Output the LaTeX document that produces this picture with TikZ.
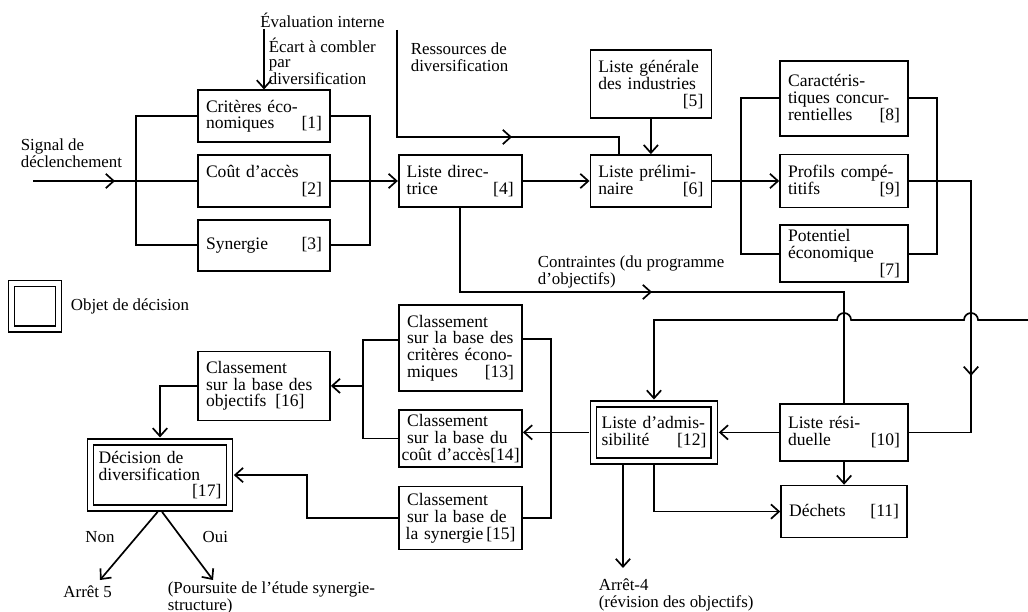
\documentclass[tikz,border=0pt]{standalone}
\usepackage{fontspec}
\setmainfont{Liberation Serif}
\usetikzlibrary{arrows.meta,positioning,decorations.markings}

\begin{document}
\begin{tikzpicture}[font=\fontsize{12pt}{12pt}\selectfont, line width=1.2pt,
      box/.style={draw, align=left, font=\fontsize{12.5pt}{12pt}\selectfont, inner xsep=2mm, inner ysep=0.8mm, text width=#1, minimum height=13mm},
      box/.default=28mm,
      dbox/.style={box=#1, double, double distance=1.1mm}, dbox/.default=26mm,
      lbl/.style={inner sep=0pt, align=left},
      ar/.style={-{Straight Barb[length=2mm,width=3.6mm]}}, dar/.style={ar, shorten >=0.9mm},
      tipmid/.style={postaction={decorate}, decoration={markings, mark=at position #1 with {\arrow{Straight Barb[length=2mm,width=3.6mm]}}}}]
    \useasboundingbox (0,0) rectangle (257mm,-152.75mm);
    \node[box=29mm] (b2) at (66mm,-45.25mm) {Coût d’accès\\\mbox{}\hfill[2]};
    \node[box=29mm, above=2.75mm of b2] (b1) {Critères éco-\\nomiques\hfill[1]};
    \node[box=29mm, minimum height=12.75mm, below=2.75mm of b2] (b3) {Synergie\hfill[3]};
    \node[box=26.75mm, right=16.75mm of b2] (b4) {Liste direc-\\trice\hfill[4]};
    \node[box=26.25mm, right=16.75mm of b4] (b6) {Liste prélimi-\\naire\hfill[6]};
    \node[box=26.25mm, minimum height=17mm, above=8.75mm of b6] (b5) {Liste générale\\des industries\\\mbox{}\hfill[5]};
    \node[box, minimum height=13.25mm, right=16.75mm of b6] (b9) {Profils compé-\\titifs\hfill[9]};
    \node[box, minimum height=18.75mm, above=4.25mm of b9] (b8) {Caractéris-\\tiques concur-\\rentielles\hfill[8]};
    \node[box, minimum height=14.25mm, below=4mm of b9] (b7) {Potentiel\\économique\\\mbox{}\hfill[7]};
    \node[box, minimum height=14.25mm, below=30mm of b7] (b10) {Liste rési-\\duelle\hfill[10]};
    \node[box=27.5mm, below=5.75mm of b10] (b11) {Déchets\hfill[11]};
    \node[dbox=26.2mm, minimum height=14.2mm, left=16mm of b10] (b12) {Liste d’admis-\\sibilité\hfill[12]};
    \node[box=26.75mm, minimum height=14.25mm, left=17.45mm of b12, yshift=-1.5mm] (b14) {Classement\\sur la base du\\\hbox to\hsize{\hss coût d’accès[14]\hss}};
    \node[box=26.75mm, minimum height=21.5mm, above=4.25mm of b14] (b13) {Classement\\sur la base des\\critères écono-\\miques\hfill[13]};
    \node[box=26.75mm, minimum height=15.75mm, below=4.5mm of b14] (b15) {Classement\\sur la base de\\\hbox to\hsize{\hss la synergie\,[15]\hss}};
    \node[box=29mm, minimum height=17.25mm, below=19.75mm of b3] (b16) {Classement\\sur la base des\\objectifs\enspace[16]};
    \node[dbox=30.7mm, minimum height=16.6mm, below=4.95mm of b16, xshift=-26mm] (b17) {Décision de\\diversification\\\mbox{}\hfill[17]};
    \node[dbox=0mm, minimum width=11.7mm, minimum height=11.4mm] (leg) at (8.75mm,-76.6mm) {};
    \node[lbl, right=2.7mm of leg] (legt) {Objet de décision};
    \node[lbl] (evi) at (80.6mm,-5.2mm) {Évaluation interne};
    \node[lbl, anchor=north west, font=\fontsize{12pt}{10.5pt}\selectfont] (ecart) at (67mm,-9.3mm) {Écart à combler\\par\\diversification};
    \node[lbl, anchor=north west] (ress) at (102.5mm,-10.5mm) {Ressources de\\diversification};
    \node[lbl, anchor=north west] (sigt) at (5mm,-34.5mm) {Signal de\\déclenchement};
    \node[lbl, anchor=north west] (contr) at (134.25mm,-63.75mm) {Contraintes (du programme\\d’objectifs)};
    \node[lbl] (a5) at (21.9mm,-148mm) {Arrêt 5};
    \node[lbl, anchor=north west] (pours) at (41.75mm,-145.2mm) {(Poursuite de l’étude synergie-\\structure)};
    \node[lbl, anchor=north west] (a4) at (149.5mm,-144.5mm) {Arrêt-4\\(révision des objectifs)};
    \coordinate (sig) at (8.25mm,-45.25mm); \coordinate (busl) at (34mm,-45.25mm); \coordinate (busr) at (92.5mm,-45.25mm);
    \coordinate (res) at (99.25mm,-7.5mm); \coordinate (rj) at (154.75mm,-34.25mm);
    \coordinate (busa) at (185.25mm,-45.25mm); \coordinate (busb) at (234.25mm,-45.25mm);
    \coordinate (h2) at (242.75mm,-80mm); \coordinate (h1) at (b10.north |- h2); \coordinate (rin) at (257mm,-80mm);
    \coordinate (cj) at (b10.north |- 0,-73mm);
    \coordinate (bc) at ([xshift=7mm]b14.east); \coordinate (bd) at ([xshift=-8.75mm]b14.west);
    \coordinate (a4tip) at ([xshift=-7.75mm]b12.south |- 0,-142mm);
    \coordinate (non) at (25mm,-145mm); \coordinate (oui) at (53.25mm,-145mm);
    \draw[tipmid=20.5mm] (sig) -- (b2.west);
    \draw (b1.west) -| (busl) |- (b3.west); \draw (b1.east) -| (busr) |- (b3.east); \draw (b2.east) -- (busr);
    \draw[ar] (busr) -- (b4.west); \draw[ar] (b4) -- (b6); \draw[ar] (b5) -- (b6);
    \draw[ar] (b1.north |- evi.south) -- (b1.north);
    \draw[tipmid=55.5mm] (res) |- (rj) -- (rj |- b6.north);
    \draw (b8.west) -| (busa) |- (b7.west); \draw (b8.east) -| (busb) |- (b7.east);
    \draw[ar] (b6.east) -- (b9.west);
    \draw[tipmid=64.25mm] (b9.east) -| (h2) |- (b10.east);
    \draw[tipmid=69mm] (b4.south) |- (cj) -- (b10.north);
    \draw[dar] (rin) -- ([xshift=1.75mm]h2) arc[start angle=0, end angle=180, radius=1.75mm]
      -- ([xshift=1.75mm]h1) arc[start angle=0, end angle=180, radius=1.75mm] -| (b12.north);
    \draw[dar] (b10.west) -- (b12.east); \draw[ar] (b10) -- (b11);
    \draw[ar, shorten <=0.9mm] (b12.west) -- (b12.west -| b14.east);
    \draw[ar, shorten <=0.9mm] ([xshift=-7.75mm]b12.south) -- (a4tip);
    \draw[ar, shorten <=0.9mm] (b12.south) |- (b11.west);
    \draw ([yshift=2.25mm]b13.east) -| (bc) |- (b15.east);
    \draw ([yshift=2mm]b13.west) -| (bd) |- (b14.west);
    \draw[ar] (bd |- b16.east) -- (b16.east);
    \draw[dar] (b15.west) -| ([xshift=19.25mm]b17.east) -- (b17.east);
    \draw[dar] (b16.west) -| (b17.north);
    \draw[ar, shorten <=0.9mm] (b17.south) -- node[pos=0.4, left=4mm] {Non} (non);
    \draw[ar, shorten <=0.9mm] (b17.south) -- node[pos=0.4, right=4mm] {Oui} (oui);
  \end{tikzpicture}
\end{document}
